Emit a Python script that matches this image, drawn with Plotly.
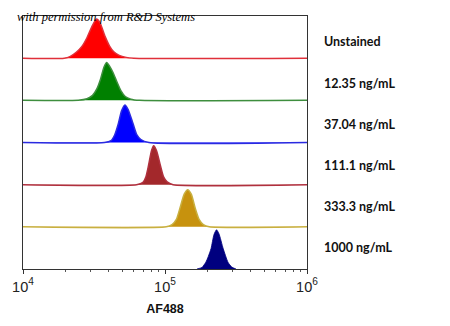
import plotly.graph_objects as go

# ---- data ----
samples = ["Unstained", "12.35 ng/mL", "37.04 ng/mL", "111.1 ng/mL", "333.3 ng/mL", "1000 ng/mL"]

unstained_x = [19500, 21400, 23700, 26000, 28200, 30500, 32900, 34700, 37900, 40700, 43400, 47600, 53300, 60300]
unstained_y = [0, 4, 15, 30, 52, 80, 100, 92, 55, 31, 17, 7, 2, 0]

c12_x = [24500, 28200, 30900, 33100, 35100, 37200, 38900, 40700, 43200, 45700, 49000, 52500, 57500, 66100]
c12_y = [0, 4, 13, 30, 55, 88, 100, 90, 72, 50, 25, 10, 3, 0]

c37_x = [37500, 41700, 44200, 46900, 49500, 52200, 55000, 59600, 63100, 67600, 77000]
c37_y = [0, 5, 20, 50, 85, 100, 88, 50, 22, 8, 0]

c111_x = [63000, 70000, 73300, 76600, 80400, 83200, 87100, 92700, 97700, 103500, 114000]
c111_y = [0, 6, 20, 50, 88, 100, 88, 50, 20, 7, 0]

c333_x = [102000, 112200, 120200, 127400, 136500, 144500, 153100, 163300, 173800, 186200, 205000]
c333_y = [0, 6, 20, 50, 88, 100, 88, 50, 20, 6, 0]

c1000_x = [167900, 182000, 193600, 201800, 210900, 221300, 230700, 239900, 257000, 278000, 295100, 316200]
c1000_y = [0, 4, 17, 32, 52, 88, 100, 90, 52, 17, 5, 0]

peak_heights = [93, 90, 89, 92, 88, 93]  # % of row height

tick_vals = [1e4, 1e5, 1e6]
tick_text = ["10<sup>4</sup>", "10<sup>5</sup>", "10<sup>6</sup>"]
minor_vals = [m * 10 ** e for e in (4, 5) for m in range(2, 10)]

# ---- styles ----
fill_colors = ["#FF0000", "#008000", "#0000FF", "#A3282B", "#C7920E", "#00007F"]
line_colors = ["#E0303A", "#3E8E3E", "#2A2AE0", "#B0303E", "#C8B040", "#00007F"]
label_y_in_row = [0.39, 0.40, 0.42, 0.45, 0.48, 0.50]

xs = [unstained_x, c12_x, c37_x, c111_x, c333_x, c1000_x]
ys = [unstained_y, c12_y, c37_y, c111_y, c333_y, c1000_y]

fig = go.Figure()
n = len(samples)
for i in range(n):
    base = n - 1 - i
    scale = peak_heights[i] / 100.0
    hump_y = [base + v / 100.0 * scale for v in ys[i]]
    if base > 0:
        px = [1e4] + xs[i] + [1e6]
        py = [base] + hump_y + [base]
        lw = 1.5
    else:
        # bottom row sits on the black axis line: no coloured baseline
        px = xs[i]
        py = hump_y
        lw = 0.8
    fig.add_trace(go.Scatter(
        x=px, y=py, mode="lines", fill="toself",
        fillcolor=fill_colors[i],
        line=dict(color=line_colors[i], width=lw, shape="spline", smoothing=0.6),
        hoverinfo="skip", showlegend=False,
    ))

for i, name in enumerate(samples):
    base = n - 1 - i
    fig.add_annotation(
        x=1, xref="paper", xshift=15, xanchor="left",
        y=base + label_y_in_row[i], yref="y", yanchor="middle",
        text="<b>%s</b>" % name, showarrow=False,
        font=dict(family="Lato", size=12.5, color="#111111"),
    )

fig.add_annotation(
    x=0, xref="paper", xshift=-8, xanchor="left",
    y=1, yref="paper", yanchor="middle", yshift=-1,
    text="<i>with permission from R&amp;D Systems</i>", showarrow=False,
    font=dict(family="Liberation Serif", size=12.5, color="#000000"),
)

fig.update_layout(
    width=450, height=326,
    margin=dict(l=18, r=143, t=16, b=57),
    paper_bgcolor="white", plot_bgcolor="white",
    xaxis=dict(
        type="log", range=[4, 6],
        tickvals=tick_vals, ticktext=tick_text,
        ticks="outside", ticklen=4, tickwidth=1, tickcolor="#333",
        minor=dict(tickvals=minor_vals, ticks="outside", ticklen=2, tickwidth=1, tickcolor="#555"),
        showline=True, linecolor="#333", linewidth=1.2, mirror=True,
        showgrid=False, zeroline=False,
        tickfont=dict(family="Liberation Sans", size=14.5, color="#222"),
        title=dict(text="<b>AF488</b>", font=dict(family="Liberation Sans", size=12.5, color="#111"), standoff=10),
    ),
    yaxis=dict(
        range=[0, 6], showticklabels=False, ticks="",
        showline=True, linecolor="#333", linewidth=1.2, mirror=True,
        showgrid=False, zeroline=False, fixedrange=True,
    ),
)

fig.write_html("out.html")
